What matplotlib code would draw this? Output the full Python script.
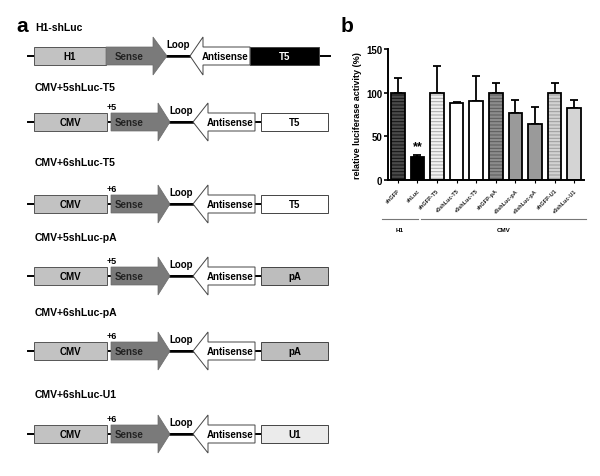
import matplotlib
matplotlib.use("Agg")
import matplotlib.pyplot as plt
from matplotlib.patches import Rectangle, Polygon
import numpy as np

plt.rcParams['font.family'] = ['Liberation Sans', 'DejaVu Sans']
plt.rcParams['font.weight'] = 'bold'
plt.rcParams['hatch.linewidth'] = 0.7

# ---- panel b data ----
labels = ["shGFP", "shLuc", "shGFP-T5", "+5shLuc-T5", "+6shLuc-T5",
          "shGFP-pA", "+5shLuc-pA", "+6shLuc-pA", "shGFP-U1", "+6shLuc-U1"]
activity = [100, 26, 100, 88, 90, 100, 77, 64, 100, 82]
err = [17, 3, 30, 1.5, 29, 11, 15, 20, 11, 10]
face = ["#4a4a4a", "#000000", "#f2f2f2", "#ffffff", "#ffffff",
        "#8c8c8c", "#9a9a9a", "#9a9a9a", "#d2d2d2", "#d4d4d4"]
hatch_col = ["#111111", None, "#a8a8a8", None, None,
             "#5a5a5a", None, None, "#9a9a9a", None]
groups = [("H1", -0.8, 1.03), ("CMV", 1.18, 9.6)]

# ---- panel a data ----
titles = ["H1-shLuc", "CMV+5shLuc-T5", "CMV+6shLuc-T5",
          "CMV+5shLuc-pA", "CMV+6shLuc-pA", "CMV+6shLuc-U1"]
promoters = ["H1", "CMV", "CMV", "CMV", "CMV", "CMV"]
offsets = [None, "+5", "+6", "+5", "+6", "+6"]
terminators = ["T5", "T5", "T5", "pA", "pA", "U1"]
term_colors = ["#000000", "#ffffff", "#ffffff", "#bdbdbd", "#bdbdbd", "#ebebeb"]
title_y = [28, 88, 163, 238, 313, 395]
row_y = [57, 123, 205, 277, 352, 435]

fig = plt.figure(figsize=(6.0, 4.77), dpi=100)

# background axes in pixel coordinates for the construct diagrams
ax0 = fig.add_axes([0, 0, 1, 1])
ax0.set_xlim(0, 600)
ax0.set_ylim(477, 0)
ax0.axis("off")

fig.text(16 / 600, 1 - 27 / 477, "a", fontsize=15, fontweight="bold", va="center")
fig.text(341 / 600, 1 - 26 / 477, "b", fontsize=15, fontweight="bold", va="center")

box_h = 18
head_h = 38
for i in range(len(titles)):
    yc = row_y[i]
    ax0.text(35, title_y[i], titles[i], fontsize=7.5, fontweight="bold", va="center")
    if i == 0:
        p0, p1, s0, s1, stip = 34, 106, 106, 153, 167
        atip, ahead, aend, t0, t1, bend = 190, 203, 250, 250, 319, 330
    else:
        p0, p1, s0, s1, stip = 34, 107, 111, 158, 170
        atip, ahead, aend, t0, t1, bend = 193, 208, 255, 261, 328, 328
    # backbone
    ax0.plot([28, bend], [yc, yc], color="black", lw=1.4, zorder=1)
    # promoter box
    ax0.add_patch(Rectangle((p0, yc - box_h / 2), p1 - p0, box_h,
                            facecolor="#c2c2c2", edgecolor="#555555", lw=0.7, zorder=2))
    ax0.text((p0 + p1) / 2, yc, promoters[i], fontsize=7, fontweight="bold",
             ha="center", va="center", zorder=3)
    # sense arrow
    sense = [(s0, yc - box_h / 2), (s1, yc - box_h / 2), (s1, yc - head_h / 2), (stip, yc),
             (s1, yc + head_h / 2), (s1, yc + box_h / 2), (s0, yc + box_h / 2)]
    ax0.add_patch(Polygon(sense, closed=True, facecolor="#7a7a7a",
                          edgecolor="#6a6a6a", lw=0.5, zorder=2))
    ax0.text(129, yc, "Sense", fontsize=7, fontweight="bold", color="#222222",
             ha="center", va="center", zorder=3)
    # loop
    ax0.plot([stip, atip], [yc, yc], color="black", lw=1.8, zorder=1)
    ax0.text((stip + atip) / 2, yc - 12, "Loop", fontsize=7, fontweight="bold",
             ha="center", va="center")
    # antisense arrow
    anti = [(atip, yc), (ahead, yc - head_h / 2), (ahead, yc - box_h / 2), (aend, yc - box_h / 2),
            (aend, yc + box_h / 2), (ahead, yc + box_h / 2), (ahead, yc + head_h / 2)]
    ax0.add_patch(Polygon(anti, closed=True, facecolor="white",
                          edgecolor="#444444", lw=0.7, zorder=2))
    ax0.text((ahead + aend) / 2 - 1, yc, "Antisense", fontsize=7, fontweight="bold",
             ha="center", va="center", zorder=3)
    # terminator box
    ax0.add_patch(Rectangle((t0, yc - box_h / 2), t1 - t0, box_h,
                            facecolor=term_colors[i], edgecolor="#444444", lw=0.7, zorder=2))
    ax0.text((t0 + t1) / 2, yc, terminators[i], fontsize=7, fontweight="bold",
             color="white" if term_colors[i] == "#000000" else "black",
             ha="center", va="center", zorder=3)
    if offsets[i]:
        ax0.text(112, yc - 15, offsets[i], fontsize=6.5, fontweight="bold",
                 ha="center", va="center")

# ---- panel b: bar chart ----
ax = fig.add_axes([388 / 600, 1 - 181 / 477, 196 / 600, 131 / 477])
x = np.arange(len(labels))
w = 0.69
for i in range(len(labels)):
    if hatch_col[i]:
        ax.bar(x[i], activity[i], w, color=face[i], edgecolor=hatch_col[i],
               hatch="-----", lw=0, zorder=2)
    else:
        ax.bar(x[i], activity[i], w, color=face[i], lw=0, zorder=2)
ax.bar(x, activity, w, fill=False, edgecolor="black", lw=1.3, zorder=3)
ax.errorbar(x, activity, yerr=[np.zeros(len(err)), err], fmt="none",
            ecolor="black", elinewidth=1.3, capsize=2.6, capthick=1.3, zorder=1)
ax.text(x[1], activity[1] + 9, "**", fontsize=9, fontweight="bold", ha="center")

ax.set_xlim(-0.5, len(labels) - 0.5)
ax.set_ylim(0, 150)
ax.set_yticks([0, 50, 100, 150])
ax.set_xticks(x)
ax.set_xticklabels(labels, rotation=45, ha="right", rotation_mode="anchor",
                   fontsize=4, fontweight="bold", color="#222222")
ax.tick_params(axis="y", labelsize=7, length=3, width=1.2, pad=1)
ax.tick_params(axis="x", length=2.5, width=0.8, pad=3)
for lab in ax.get_yticklabels():
    lab.set_fontweight("bold")
ax.set_ylabel("relative luciferase activity (%)", fontsize=6.5, fontweight="bold", labelpad=3)
ax.spines["top"].set_visible(False)
ax.spines["right"].set_visible(False)
ax.spines["left"].set_linewidth(1.4)
ax.spines["bottom"].set_linewidth(1.4)

trans = ax.get_xaxis_transform()
for name, left, right in groups:
    ax.plot([left, right], [-0.30, -0.30], color="#777777", lw=0.8,
            transform=trans, clip_on=False)
    ax.text((left + right) / 2, -0.375, name, fontsize=4.5, fontweight="bold",
            ha="center", va="center", transform=trans)

fig.savefig("out.png", dpi=100)
